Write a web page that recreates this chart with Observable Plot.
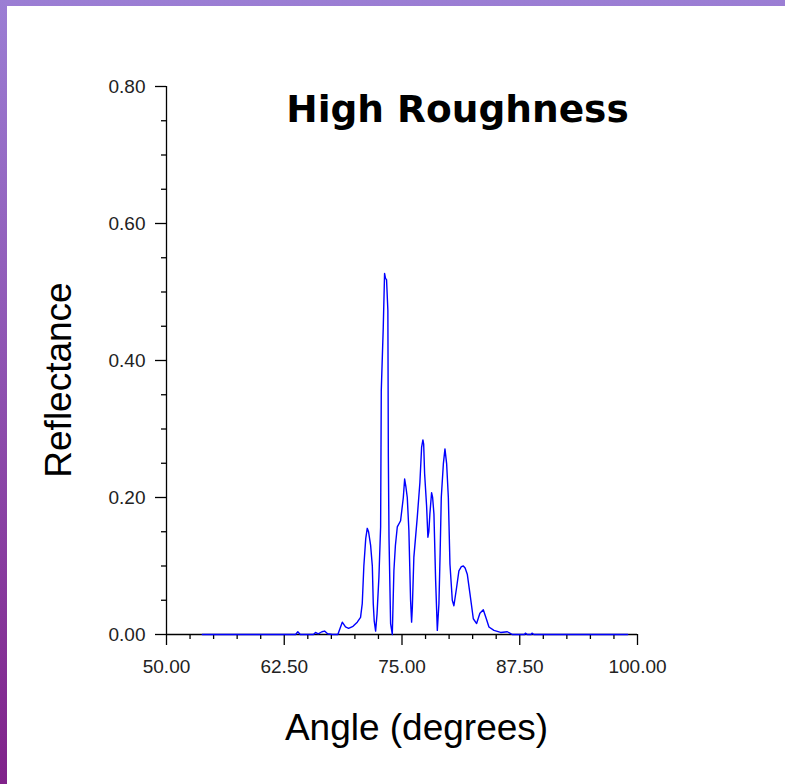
<!DOCTYPE html>
<html><head><meta charset="utf-8">
<script src="https://cdn.jsdelivr.net/npm/d3@7"></script>
<script src="https://cdn.jsdelivr.net/npm/@observablehq/plot@0.6"></script>
<style>
html,body{margin:0;padding:0;background:#fff;}
#frame{position:relative;width:785px;height:784px;background:linear-gradient(to bottom,#9b7ed4,#80228a);overflow:hidden;}
#inner{position:absolute;left:7px;top:6px;right:0;bottom:0;background:#fff;}
#chart{position:absolute;left:0;top:0;}
</style></head><body>
<div id="frame"><div id="inner"></div><div id="chart"></div></div>
<script>
const angles = [53.8, 63.7, 63.94, 64.2, 65.6, 65.82, 66.1, 66.5, 66.78, 67.1, 67.6, 68.19, 68.66, 69.0, 69.33, 69.8, 70.25, 70.6, 70.78, 70.95, 71.15, 71.31, 71.45, 71.67, 71.85, 71.95, 72.05, 72.2, 72.35, 72.55, 72.73, 72.8, 73.01, 73.15, 73.25, 73.36, 73.5, 73.55, 73.62, 73.79, 73.97, 74.14, 74.3, 74.5, 74.85, 75.14, 75.28, 75.42, 75.56, 75.73, 75.91, 76.02, 76.1, 76.26, 76.62, 76.9, 77.08, 77.22, 77.3, 77.4, 77.61, 77.75, 77.85, 77.96, 78.14, 78.25, 78.39, 78.57, 78.75, 78.92, 79.05, 79.17, 79.39, 79.56, 79.74, 79.92, 80.09, 80.34, 80.51, 80.8, 81.04, 81.3, 81.51, 81.7, 81.93, 82.21, 82.57, 82.92, 83.27, 83.63, 83.95, 84.23, 84.76, 85.47, 86.18, 86.71, 88.0, 88.1, 88.3, 88.7, 88.8, 89.0, 98.96];
const reflectance = [0, 0, 0.004, 0, 0, 0.003, 0.001, 0.004, 0.005, 0.001, 0, 0, 0.018, 0.011, 0.009, 0.012, 0.018, 0.025, 0.045, 0.10, 0.14, 0.155, 0.15, 0.13, 0.10, 0.045, 0.02, 0.005, 0.03, 0.084, 0.157, 0.356, 0.448, 0.527, 0.52, 0.518, 0.473, 0.26, 0.142, 0.016, 0.0, 0.093, 0.13, 0.157, 0.166, 0.20, 0.227, 0.215, 0.20, 0.152, 0.05, 0.018, 0.04, 0.113, 0.171, 0.222, 0.273, 0.284, 0.278, 0.235, 0.188, 0.142, 0.15, 0.176, 0.207, 0.20, 0.176, 0.079, 0.006, 0.045, 0.12, 0.20, 0.249, 0.271, 0.249, 0.20, 0.103, 0.05, 0.042, 0.069, 0.093, 0.099, 0.10, 0.097, 0.088, 0.06, 0.023, 0.016, 0.031, 0.036, 0.023, 0.011, 0.006, 0.003, 0.004, 0, 0, 0.002, 0, 0, 0.002, 0, 0];
const xMajorTicks = [50, 62.5, 75, 87.5, 100];
const xMinorTicks = [52.5, 55, 57.5, 60, 65, 67.5, 70, 72.5, 77.5, 80, 82.5, 85, 90, 92.5, 95, 97.5];
const yMajorTicks = [0, 0.2, 0.4, 0.6, 0.8];
const yMinorTicks = [0.05, 0.1, 0.15, 0.25, 0.3, 0.35, 0.45, 0.5, 0.55, 0.65, 0.7, 0.75];
const titleText = "High Roughness";
const xLabel = "Angle (degrees)";
const yLabel = "Reflectance";

const data = angles.map((a, i) => ({angle: a, r: reflectance[i]}));
const fmt = d3.format(".2f");
const tickFont = "'Liberation Sans', Arial, sans-serif";

const plot = Plot.plot({
  width: 785, height: 784,
  marginLeft: 166, marginRight: 148, marginTop: 86, marginBottom: 150,
  style: {background: "transparent", fontFamily: tickFont, color: "#000", overflow: "visible"},
  x: {domain: [50, 100], label: null},
  y: {domain: [0, 0.8], label: null},
  marks: [
    Plot.axisX({ticks: xMinorTicks, tickSize: 5, tickFormat: () => "", strokeWidth: 1.3, label: null}),
    Plot.axisX({ticks: xMajorTicks, tickSize: 11, tickPadding: 14, tickFormat: fmt, fontSize: 19, strokeWidth: 1.3, label: null, fill: "#222"}),
    Plot.axisY({ticks: yMinorTicks, tickSize: 5, tickFormat: () => "", strokeWidth: 1.3, label: null}),
    Plot.axisY({ticks: yMajorTicks, tickSize: 11, tickPadding: 10, tickFormat: fmt, fontSize: 19, strokeWidth: 1.3, label: null, fill: "#222"}),
    Plot.ruleY([0], {stroke: "#000", strokeWidth: 1.3}),
    Plot.ruleX([50], {stroke: "#000", strokeWidth: 1.3}),
    Plot.line(data, {x: "angle", y: "r", stroke: "#0000ff", strokeWidth: 1.4}),
    Plot.text([titleText], {text: d => d, frameAnchor: "top", textAnchor: "middle", lineAnchor: "middle", dx: 55.5, dy: 23, fontSize: 37.5, fontWeight: "bold", fontFamily: "'DejaVu Sans', sans-serif", fill: "#000"}),
    Plot.text([xLabel], {text: d => d, frameAnchor: "bottom", textAnchor: "middle", lineAnchor: "middle", dx: 14.5, dy: 94, fontSize: 37, fontFamily: tickFont, fill: "#000"}),
    Plot.text([yLabel], {text: d => d, frameAnchor: "left", textAnchor: "middle", lineAnchor: "middle", rotate: -90, dx: -107.6, dy: 19.5, fontSize: 37, fontFamily: tickFont, fill: "#000"})
  ]
});
document.getElementById("chart").appendChild(plot);
</script>
</body></html>
